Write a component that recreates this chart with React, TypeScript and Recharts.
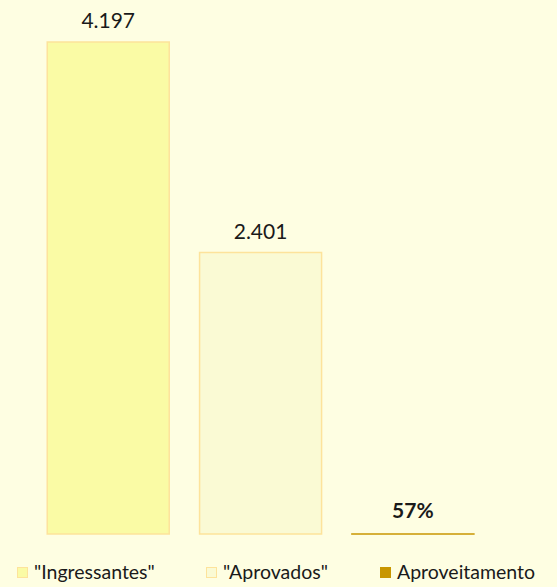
import React from 'react';
import { BarChart, Bar, XAxis, YAxis, Cell, LabelList } from 'recharts';

const categories = ['"Ingressantes"', '"Aprovados"', 'Aproveitamento'];
const values = [4197, 2401, 0.57];
const valueLabels = ['4.197', '2.401', '57%'];
const fills = ['#FAFBA5', '#FAFAD4', '#C89600'];
const strokes = ['#FDE39B', '#FDE39B', '#C89600'];

const data = categories.map((name, i) => ({
    name,
    value: values[i],
    label: valueLabels[i],
}));

const FONT = "Lato, 'Open Sans', sans-serif";

const ValueLabel = (props: any) => {
    const { x, y, width, index } = props;
    const bold = index === 2;
    return (
        <text
            x={x + width / 2}
            y={y - (bold ? 16 : 14)}
            textAnchor="middle"
            fontFamily={FONT}
            fontSize={21}
            fontWeight={bold ? 700 : 400}
            fill="#1a1a1a"
        >
            {valueLabels[index]}
        </text>
    );
};

export default function App() {
    return (
        <div style={{
            position: 'fixed',
            top: 0,
            left: 0,
            width: 557,
            height: 587,
            background: '#FEFEE2',
            fontFamily: FONT,
        }}>
            <BarChart
                width={557}
                height={587}
                data={data}
                margin={{ top: 42, right: 68, left: 32, bottom: 53 }}
                barCategoryGap="10%"
            >
                <XAxis dataKey="name" hide />
                <YAxis hide domain={[0, 4197]} />
                <Bar dataKey="value" isAnimationActive={false} strokeWidth={1.5}>
                    {data.map((entry, index) => (
                        <Cell key={`cell-${index}`} fill={fills[index]} stroke={strokes[index]} />
                    ))}
                    <LabelList dataKey="label" content={<ValueLabel />} />
                </Bar>
            </BarChart>

            {/* Legend */}
            <div style={{ position: 'absolute', top: 560, left: 0, width: 557, height: 24 }}>
                {categories.map((name, i) => (
                    <div key={name} style={{
                        position: 'absolute',
                        left: [17, 206, 380][i],
                        top: 0,
                        height: 24,
                        lineHeight: '24px',
                        display: 'flex',
                        alignItems: 'center',
                        gap: 6,
                        fontSize: 19.5,
                        color: '#1a1a1a',
                        whiteSpace: 'nowrap',
                    }}>
                        <span style={{
                            display: 'inline-block',
                            width: 9,
                            height: 9,
                            background: fills[i],
                            border: `1.5px solid ${strokes[i]}`,
                        }} />
                        {name}
                    </div>
                ))}
            </div>
        </div>
    );
}
